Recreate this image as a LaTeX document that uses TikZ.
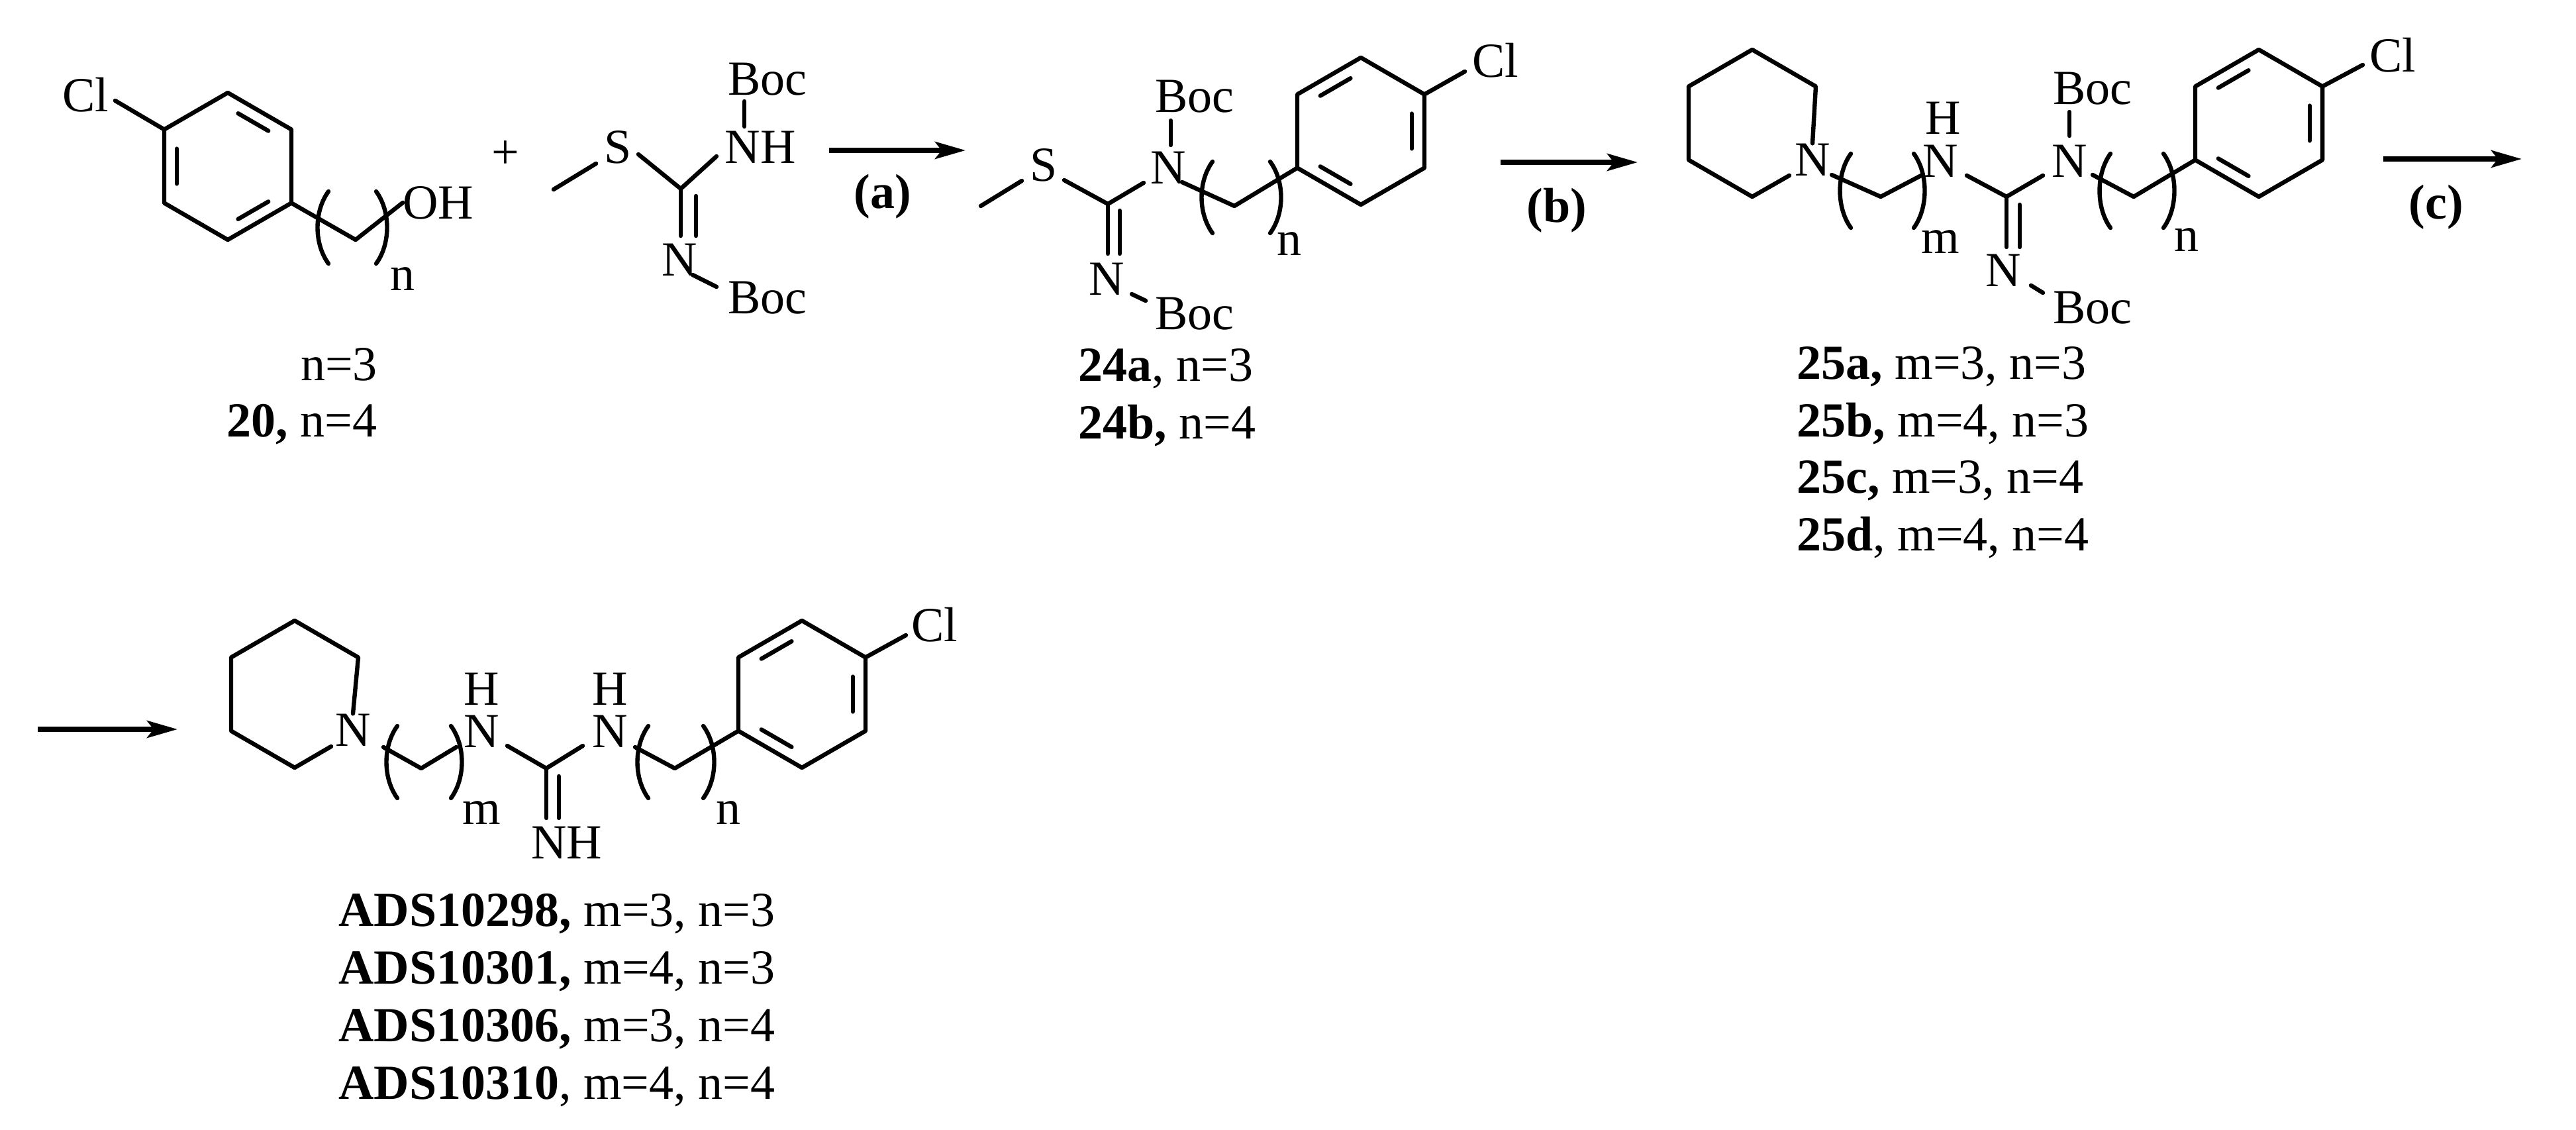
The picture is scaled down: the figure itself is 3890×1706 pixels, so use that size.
\documentclass[tikz,border=0pt]{standalone}
\usepackage{fontspec}
\setmainfont{Liberation Serif}
\usetikzlibrary{calc,arrows.meta}
\newcommand\hexat[3]{%
 \coordinate (#1c) at (#2,#3);
 \coordinate (#1t) at (#2,#3-111); \coordinate (#1ur) at (#2+96,#3-55.5);
 \coordinate (#1lr) at (#2+96,#3+55.5); \coordinate (#1b) at (#2,#3+111);
 \coordinate (#1ll) at (#2-96,#3+55.5); \coordinate (#1ul) at (#2-96,#3-55.5);}
\newcommand\innerdb[3]{\draw[bond,shorten <=9pt,shorten >=9pt] ($(#1c)!0.8!(#1#2)$) -- ($(#1c)!0.8!(#1#3)$);}
\newcommand\lparen[3]{\draw[bond] (#1,#2) .. controls (#1-22,#2+30) and (#1-22,#3-30) .. (#1,#3);}
\newcommand\rparen[3]{\draw[bond] (#1,#2) .. controls (#1+22,#2+30) and (#1+22,#3-30) .. (#1,#3);}
\begin{document}
\begin{tikzpicture}[x=0.5pt,y=-0.5pt,
 bond/.style={line width=3.2pt,line cap=round,line join=round},
 arr/.style={line width=3.6pt,-{Stealth[length=23pt,width=13pt,inset=5pt]}},
 lbl/.style={inner sep=0pt,font=\fontsize{37}{44}\selectfont},
 cpd/.style={inner sep=0pt,anchor=west,font=\fontsize{37}{44}\selectfont}]
\useasboundingbox (0,0) rectangle (3890,1706);
% ===== starting alcohol
\hexat{A}{344}{251}
\draw[bond] (At)--(Aur)--(Alr)--(Ab)--(All)--(Aul)--cycle;
\innerdb{A}{ul}{ll}\innerdb{A}{t}{ur}\innerdb{A}{b}{lr}
\node[lbl] (Acl) at (129,143) {Cl};
\draw[bond] (Aul)--(174,152);
\node[lbl] (OH) at (662,306) {OH};
\draw[bond] (Alr)--(537,362)--(OH.west);
\lparen{496}{289}{398}\rparen{568}{289}{398}
\node[lbl] (An) at (608,421) {n};
\node[lbl] (An3) at (512,550) {n=3};
\node[lbl] (A20) at (456,641) {\textbf{20,} n=4};
\node[lbl] (plus) at (763,234) {+};
% ===== reagent
\node[lbl] (RS) at (933,222) {S};
\node[lbl] (RNH) at (1148,222) {NH};
\node[lbl] (RBoc1) at (1159,120) {Boc};
\node[lbl] (RN) at (1026,392) {N};
\node[lbl] (RBoc2) at (1159,450) {Boc};
\coordinate (RC) at (1028,285);
\draw[bond] (836,286)--(900,247);
\draw[bond] (964,233)--(RC)--(1082,236);
\draw[bond] (1124,153)--(1124,191);
\draw[bond] (RC)--(1028,356);
\draw[bond] (1051,296)--(1051,356);
\draw[bond] (1046,415)--(1082,433);
\draw[arr] (1252,227)--(1458,227);
\node[lbl] (la) at (1333,297) {\textbf{(a)}};
% ===== 24
\node[lbl] (BS) at (1576,249) {S};
\node[lbl] (BN) at (1764,253) {N};
\node[lbl] (BBoc1) at (1804,146) {Boc};
\node[lbl] (BN2) at (1671,421) {N};
\node[lbl] (BBoc2) at (1804,474) {Boc};
\coordinate (BC) at (1673,308);
\draw[bond] (1481,311)--(1543,273);
\draw[bond] (1607,272)--(BC)--(1727,276);
\draw[bond] (1768,182)--(1768,219);
\draw[bond] (BC)--(1673,383);
\draw[bond] (1691,318)--(1691,383);
\draw[bond] (1709,444)--(1730,454);
\hexat{B}{2055}{198}
\draw[bond] (Bt)--(Bur)--(Blr)--(Bb)--(Bll)--(Bul)--cycle;
\innerdb{B}{ul}{t}\innerdb{B}{ur}{lr}\innerdb{B}{ll}{b}
\draw[bond] (1785,275)--(1864,311)--(Bll);
\draw[bond] (Bur)--(2212,108);
\node[lbl] (Bcl) at (2258,91) {Cl};
\lparen{1831}{244}{352}\rparen{1918}{244}{352}
\node[lbl] (Bn) at (1947,368) {n};
\node[cpd] (B24a) at (1628,557) {\textbf{24a}, n=3};
\node[cpd] (B24b) at (1628,643) {\textbf{24b,} n=4};
\draw[arr] (2266,245)--(2473,245);
\node[lbl] (lb) at (2351,318) {\textbf{(b)}};
% ===== 25
\hexat{P}{2646}{186}
\node[lbl] (PN) at (2737,241) {N};
\draw[bond] (PN.north)--(Pur)--(Pt)--(Pul)--(Pll)--(Pb)--(2702,265);
\node[lbl] (CN1) at (2930,243) {N};
\node[lbl] (CH1) at (2934,178) {H};
\draw[bond] (2766,264)--(2840,297)--(2903,264);
\lparen{2795}{232}{344}\rparen{2890}{232}{344}
\node[lbl] (Cm) at (2930,365) {m};
\coordinate (CC) at (3030,297);
\draw[bond] (2970,265)--(CC)--(3085,265);
\node[lbl] (CN2) at (3125,243) {N};
\draw[bond] (3125,169)--(3125,205);
\node[lbl] (CBoc1) at (3160,134) {Boc};
\draw[bond] (CC)--(3030,373);
\draw[bond] (3050,309)--(3050,373);
\node[lbl] (CN3) at (3025,408) {N};
\draw[bond] (3067,431)--(3085,442);
\node[lbl] (CBoc2) at (3160,465) {Boc};
\hexat{C}{3411}{186}
\draw[bond] (Ct)--(Cur)--(Clr)--(Cb)--(Cll)--(Cul)--cycle;
\innerdb{C}{ul}{t}\innerdb{C}{ur}{lr}\innerdb{C}{ll}{b}
\draw[bond] (3160,264)--(3222,297)--(Cll);
\lparen{3187}{232}{344}\rparen{3267}{232}{344}
\node[lbl] (Cn) at (3302,362) {n};
\draw[bond] (Cur)--(3568,98);
\node[lbl] (Ccl) at (3613,83) {Cl};
\node[cpd] (C25a) at (2713,554) {\textbf{25a,} m=3, n=3};
\node[cpd] (C25b) at (2713,640) {\textbf{25b,} m=4, n=3};
\node[cpd] (C25c) at (2713,726) {\textbf{25c,} m=3, n=4};
\node[cpd] (C25d) at (2713,812) {\textbf{25d}, m=4, n=4};
\draw[arr] (3599,240)--(3808,240);
\node[lbl] (lc) at (3679,313) {\textbf{(c)}};
% ===== ADS
\draw[arr] (57,1101)--(268,1101);
\hexat{Q}{445}{1048}
\node[lbl] (QN) at (533,1102) {N};
\draw[bond] (QN.north)--(Qur)--(Qt)--(Qul)--(Qll)--(Qb)--(500,1127);
\draw[bond] (579,1128)--(636,1160)--(689,1128);
\node[lbl] (DN1) at (727,1104) {N};
\node[lbl] (DH1) at (727,1040) {H};
\lparen{600}{1096}{1205}\rparen{681}{1096}{1205}
\node[lbl] (Dm) at (727,1227) {m};
\coordinate (DC) at (825,1160);
\draw[bond] (766,1126)--(DC)--(880,1126);
\node[lbl] (DN2) at (921,1104) {N};
\node[lbl] (DH2) at (921,1040) {H};
\draw[bond] (DC)--(825,1235);
\draw[bond] (844,1172)--(844,1235);
\node[lbl] (DNH) at (856,1272) {NH};
\hexat{D}{1211}{1048}
\draw[bond] (Dt)--(Dur)--(Dlr)--(Db)--(Dll)--(Dul)--cycle;
\innerdb{D}{ul}{t}\innerdb{D}{ur}{lr}\innerdb{D}{ll}{b}
\draw[bond] (959,1128)--(1019,1160)--(Dll);
\lparen{979}{1096}{1205}\rparen{1062}{1096}{1205}
\node[lbl] (Dn) at (1100,1227) {n};
\draw[bond] (Dur)--(1368,959);
\node[lbl] (Dcl) at (1411,943) {Cl};
\node[cpd] (E1) at (511,1380) {\textbf{ADS10298,} m=3, n=3};
\node[cpd] (E2) at (511,1467) {\textbf{ADS10301,} m=4, n=3};
\node[cpd] (E3) at (511,1554) {\textbf{ADS10306,} m=3, n=4};
\node[cpd] (E4) at (511,1641) {\textbf{ADS10310}, m=4, n=4};
\end{tikzpicture}
\end{document}
